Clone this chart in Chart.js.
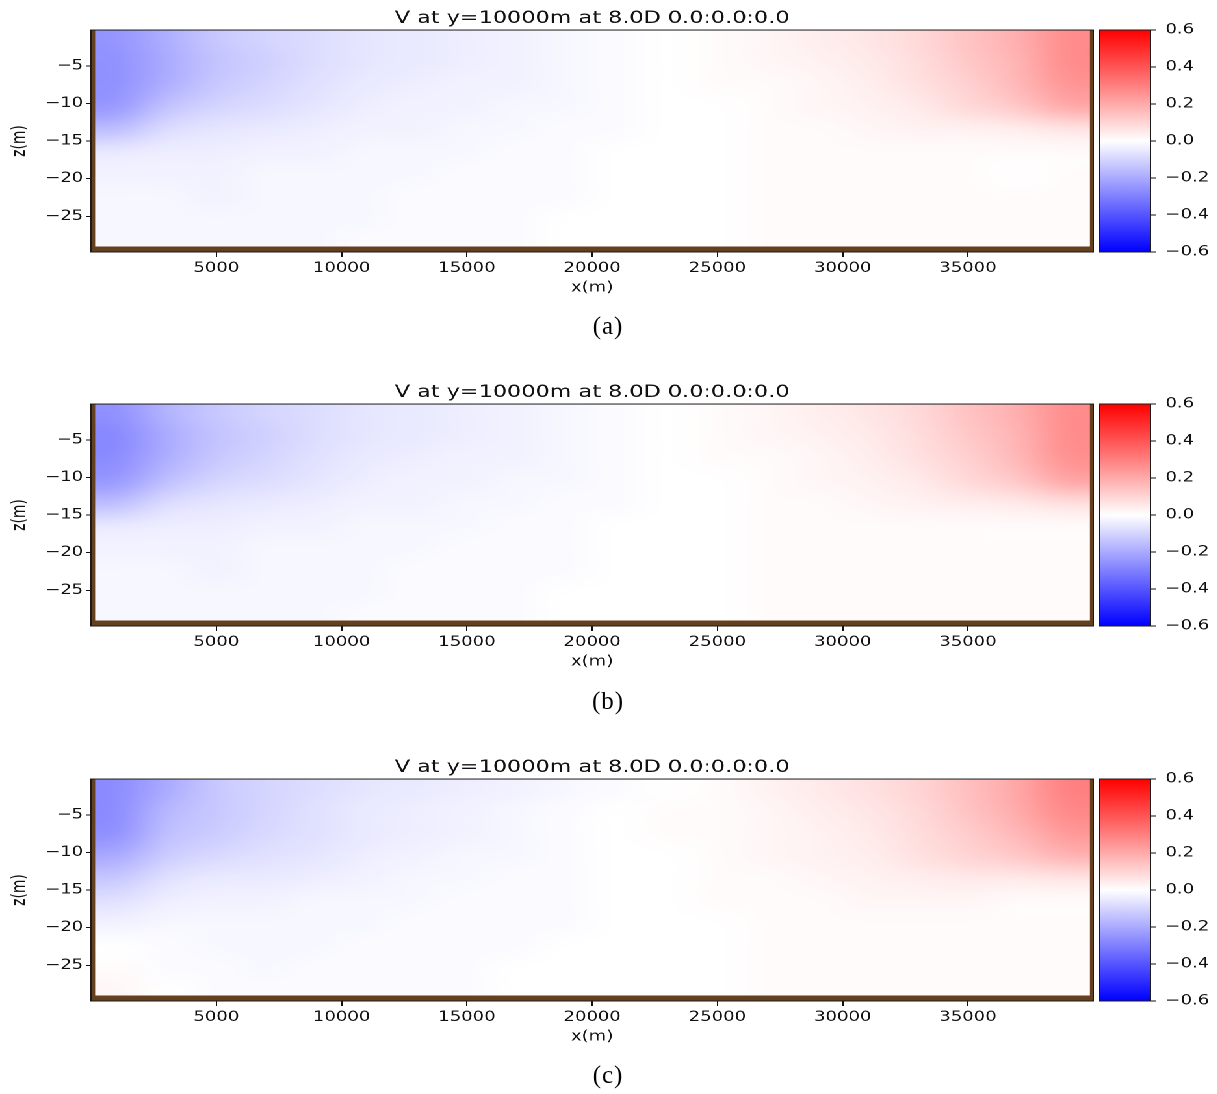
<!DOCTYPE html>
<html>
<head>
<meta charset="utf-8">
<script src="https://cdn.jsdelivr.net/npm/chart.js@4.4.1/dist/chart.umd.min.js"></script>
<style>
  html, body { margin: 0; padding: 0; background: #fff; }
  body { width: 1217px; height: 1094px; position: relative; overflow: hidden; }
  /* the source figure is stretched sideways, so draw narrow and stretch */
  #stage { position: absolute; left: 0; top: 0; width: 936px; height: 1094px; transform: scaleX(1.3); transform-origin: 0 0; }
  .panel { position: absolute; left: 0; width: 936px; height: 302px; }
  .panel canvas { position: absolute; top: 0; }
  .caption { position: absolute; left: 558px; width: 100px; text-align: center; font-family: "Liberation Serif", serif; font-size: 25px; line-height: 25px; color: #000; letter-spacing: 1px; }
</style>
</head>
<body>
<div id="stage">
  <div class="panel" style="top:0px"><canvas id="mapA" width="845" height="302" style="left:0"></canvas><canvas id="barA" width="91" height="302" style="left:845px"></canvas></div>
  <div class="panel" style="top:374px"><canvas id="mapB" width="845" height="302" style="left:0"></canvas><canvas id="barB" width="91" height="302" style="left:845px"></canvas></div>
  <div class="panel" style="top:749px"><canvas id="mapC" width="845" height="302" style="left:0"></canvas><canvas id="barC" width="91" height="302" style="left:845px"></canvas></div>
</div>
<div class="caption" style="top:313px">(a)</div>
<div class="caption" style="top:688px">(b)</div>
<div class="caption" style="top:1062px">(c)</div>

<script>
const titleText = "V at y=10000m at 8.0D 0.0:0.0:0.0";

// cell centres (m)
const xCenters = [1000, 3000, 5000, 7000, 9000, 11000, 13000, 15000, 17000, 19000,
                  21000, 23000, 25000, 27000, 29000, 31000, 33000, 35000, 37000, 39000];
const zCenters = [-1.5, -4.5, -7.5, -10.5, -13.5, -16.5, -19.5, -22.5, -25.5, -28.5];

const xTickValues = [5000, 10000, 15000, 20000, 25000, 30000, 35000];
const zTickValues = [-25, -20, -15, -10, -5];
const cbTickValues = [-0.6, -0.4, -0.2, 0.0, 0.2, 0.4, 0.6];
const vMin = -0.6, vMax = 0.6;

// V values, one row per z (top row first)
const vA = [
  [-0.25,-0.19,-0.13,-0.10,-0.08,-0.06,-0.05,-0.04,-0.03,-0.02,-0.01,0.00,0.01,0.02,0.04,0.06,0.09,0.14,0.19,0.27],
  [-0.26,-0.20,-0.14,-0.11,-0.08,-0.06,-0.05,-0.04,-0.03,-0.02,-0.01,0.00,0.01,0.02,0.03,0.05,0.08,0.13,0.18,0.27],
  [-0.26,-0.19,-0.13,-0.10,-0.07,-0.05,-0.04,-0.03,-0.03,-0.02,-0.01,0.00,0.01,0.01,0.02,0.04,0.07,0.11,0.17,0.25],
  [-0.24,-0.14,-0.10,-0.08,-0.06,-0.04,-0.03,-0.03,-0.02,-0.02,-0.01,0.00,0.00,0.01,0.02,0.03,0.05,0.09,0.13,0.20],
  [-0.15,-0.08,-0.06,-0.05,-0.04,-0.03,-0.03,-0.02,-0.02,-0.01,-0.01,0.00,0.00,0.01,0.01,0.02,0.03,0.03,0.04,0.06],
  [-0.05,-0.04,-0.04,-0.03,-0.03,-0.02,-0.02,-0.02,-0.01,-0.01,0.00,0.00,0.00,0.01,0.01,0.01,0.01,0.01,0.01,0.01],
  [-0.03,-0.03,-0.03,-0.02,-0.02,-0.02,-0.02,-0.01,-0.01,-0.01,0.00,0.00,0.00,0.01,0.01,0.01,0.01,0.01,0.00,0.01],
  [-0.02,-0.02,-0.03,-0.02,-0.02,-0.02,-0.01,-0.01,-0.01,-0.01,0.00,0.00,0.00,0.01,0.01,0.01,0.01,0.01,0.01,0.01],
  [-0.02,-0.02,-0.02,-0.02,-0.02,-0.02,-0.01,-0.01,-0.01,0.00,0.00,0.00,0.00,0.01,0.01,0.01,0.01,0.01,0.01,0.01],
  [-0.02,-0.02,-0.02,-0.02,-0.02,-0.01,-0.01,-0.01,-0.01,0.00,0.00,0.00,0.00,0.01,0.01,0.01,0.01,0.01,0.01,0.01]
];
const vB = [
  [-0.26,-0.18,-0.13,-0.10,-0.08,-0.06,-0.05,-0.04,-0.03,-0.02,-0.01,0.00,0.01,0.02,0.04,0.06,0.09,0.14,0.19,0.27],
  [-0.28,-0.20,-0.14,-0.11,-0.08,-0.06,-0.05,-0.04,-0.03,-0.02,-0.01,0.00,0.01,0.02,0.03,0.05,0.08,0.13,0.18,0.27],
  [-0.27,-0.19,-0.13,-0.10,-0.07,-0.05,-0.04,-0.03,-0.03,-0.02,-0.01,0.00,0.01,0.01,0.02,0.04,0.07,0.11,0.17,0.26],
  [-0.24,-0.15,-0.10,-0.08,-0.06,-0.04,-0.03,-0.03,-0.02,-0.02,-0.01,0.00,0.00,0.01,0.02,0.03,0.05,0.09,0.13,0.21],
  [-0.15,-0.08,-0.06,-0.05,-0.04,-0.03,-0.03,-0.02,-0.02,-0.01,-0.01,0.00,0.00,0.01,0.01,0.02,0.03,0.04,0.05,0.07],
  [-0.05,-0.04,-0.04,-0.03,-0.03,-0.02,-0.02,-0.02,-0.01,-0.01,0.00,0.00,0.00,0.01,0.01,0.01,0.01,0.01,0.01,0.01],
  [-0.03,-0.03,-0.03,-0.02,-0.02,-0.02,-0.02,-0.01,-0.01,-0.01,0.00,0.00,0.00,0.01,0.01,0.01,0.01,0.01,0.01,0.01],
  [-0.02,-0.02,-0.03,-0.02,-0.02,-0.02,-0.01,-0.01,-0.01,-0.01,0.00,0.00,0.00,0.01,0.01,0.01,0.01,0.01,0.01,0.01],
  [-0.02,-0.02,-0.02,-0.02,-0.02,-0.02,-0.01,-0.01,-0.01,0.00,0.00,0.00,0.00,0.01,0.01,0.01,0.01,0.01,0.01,0.01],
  [-0.02,-0.02,-0.02,-0.02,-0.02,-0.01,-0.01,-0.01,-0.01,0.00,0.00,0.00,0.00,0.01,0.01,0.01,0.01,0.01,0.01,0.01]
];
const vC = [
  [-0.27,-0.20,-0.13,-0.10,-0.08,-0.06,-0.05,-0.04,-0.03,-0.02,-0.01,0.00,0.01,0.03,0.05,0.07,0.10,0.15,0.21,0.30],
  [-0.27,-0.17,-0.13,-0.10,-0.07,-0.05,-0.04,-0.03,-0.02,-0.01,0.00,0.01,0.01,0.02,0.04,0.06,0.09,0.14,0.20,0.28],
  [-0.26,-0.15,-0.12,-0.09,-0.07,-0.05,-0.04,-0.03,-0.02,-0.01,0.00,0.01,0.01,0.02,0.03,0.05,0.08,0.12,0.17,0.24],
  [-0.20,-0.12,-0.09,-0.07,-0.06,-0.04,-0.03,-0.02,-0.02,-0.01,0.00,0.00,0.01,0.02,0.03,0.04,0.07,0.10,0.13,0.18],
  [-0.13,-0.07,-0.05,-0.05,-0.04,-0.03,-0.02,-0.02,-0.01,-0.01,0.00,0.00,0.01,0.01,0.02,0.03,0.04,0.05,0.05,0.06],
  [-0.07,-0.04,-0.03,-0.03,-0.02,-0.02,-0.02,-0.01,-0.01,-0.01,0.00,0.00,0.01,0.01,0.01,0.02,0.02,0.02,0.01,0.01],
  [-0.03,-0.02,-0.02,-0.02,-0.02,-0.02,-0.01,-0.01,-0.01,-0.01,0.00,0.00,0.00,0.01,0.01,0.01,0.01,0.01,0.01,0.01],
  [0.00,-0.01,-0.02,-0.02,-0.02,-0.01,-0.01,-0.01,-0.01,0.00,0.00,0.00,0.00,0.01,0.01,0.01,0.01,0.01,0.01,0.01],
  [0.01,-0.01,-0.01,-0.02,-0.01,-0.01,-0.01,-0.01,0.00,0.00,0.00,0.00,0.00,0.01,0.01,0.01,0.01,0.01,0.01,0.01],
  [0.02,0.00,-0.01,-0.01,-0.01,-0.01,-0.01,-0.01,0.00,0.00,0.00,0.00,0.00,0.01,0.01,0.01,0.01,0.01,0.01,0.01]
];

const fontFamily = "'DejaVu Sans', sans-serif";
const textColor = "#111";
const terrainColor = "#65401f";

// matplotlib "bwr": blue -> white -> red
function bwr(v) {
  const t = Math.max(0, Math.min(1, (v - vMin) / (vMax - vMin)));
  let r, g, b;
  if (t < 0.5) { r = g = 2 * t; b = 1; }
  else { r = 1; g = b = 2 * (1 - t); }
  return [Math.round(r * 255), Math.round(g * 255), Math.round(b * 255)];
}

function minusFmt(v, digits) {
  const s = Math.abs(v).toFixed(digits);
  return (v < 0 ? "\u2212" : "") + s;
}

// paints the cells into a tiny image and stretches it over the scales (smooth shading)
const heatmapPlugin = {
  id: "heatmap",
  beforeDatasetsDraw(chart) {
    const { ctx, chartArea: a, scales: { x, y } } = chart;
    const cells = chart.data.datasets[0].data;
    const nx = xCenters.length, nz = zCenters.length;
    const off = document.createElement("canvas");
    off.width = nx + 2;
    off.height = nz + 2;
    const octx = off.getContext("2d");
    const img = octx.createImageData(nx + 2, nz + 2);
    for (let j = 0; j < nz + 2; j++) {
      for (let i = 0; i < nx + 2; i++) {
        const ci = Math.min(nx - 1, Math.max(0, i - 1));
        const cj = Math.min(nz - 1, Math.max(0, j - 1));
        const c = bwr(cells[cj * nx + ci].v);
        const k = (j * (nx + 2) + i) * 4;
        img.data[k] = c[0];
        img.data[k + 1] = c[1];
        img.data[k + 2] = c[2];
        img.data[k + 3] = 255;
      }
    }
    octx.putImageData(img, 0, 0);

    const dx = xCenters[1] - xCenters[0];
    const dz = zCenters[0] - zCenters[1];
    const x0 = x.getPixelForValue(xCenters[0] - dx * 1.5);
    const x1 = x.getPixelForValue(xCenters[nx - 1] + dx * 1.5);
    const y0 = y.getPixelForValue(zCenters[0] + dz * 1.5);
    const y1 = y.getPixelForValue(zCenters[nz - 1] - dz * 1.5);

    ctx.save();
    ctx.beginPath();
    ctx.rect(a.left, a.top, a.right - a.left, a.bottom - a.top);
    ctx.clip();
    ctx.imageSmoothingEnabled = true;
    ctx.imageSmoothingQuality = "high";
    ctx.drawImage(off, x0, y0, x1 - x0, y1 - y0);
    ctx.restore();
  },
  afterDatasetsDraw(chart) {
    // terrain strip on left / bottom / right, then the axes frame
    const { ctx, chartArea: a } = chart;
    ctx.save();
    ctx.fillStyle = terrainColor;
    ctx.fillRect(a.left, a.top, 3.2, a.bottom - a.top);
    ctx.fillRect(a.left, a.bottom - 5.5, a.right - a.left, 5.5);
    ctx.fillRect(a.right - 2.6, a.top, 2.6, a.bottom - a.top);
    ctx.strokeStyle = "#1a1a1a";
    ctx.lineWidth = 1;
    ctx.strokeRect(a.left, a.top, a.right - a.left, a.bottom - a.top);
    ctx.restore();
  }
};

const colorbarPlugin = {
  id: "colorbar",
  beforeDatasetsDraw(chart) {
    const { ctx, chartArea: a, scales: { y } } = chart;
    const g = ctx.createLinearGradient(0, y.getPixelForValue(vMin), 0, y.getPixelForValue(vMax));
    g.addColorStop(0, "rgb(0,0,255)");
    g.addColorStop(0.5, "rgb(255,255,255)");
    g.addColorStop(1, "rgb(255,0,0)");
    ctx.save();
    ctx.fillStyle = g;
    ctx.fillRect(a.left, a.top, a.right - a.left, a.bottom - a.top);
    ctx.strokeStyle = "#1a1a1a";
    ctx.lineWidth = 1;
    ctx.strokeRect(a.left, a.top, a.right - a.left, a.bottom - a.top);
    ctx.restore();
  }
};

function makeMap(id, grid) {
  const cells = zCenters.flatMap((z, j) => xCenters.map((xv, i) => ({ x: xv, y: z, v: grid[j][i] })));
  new Chart(document.getElementById(id), {
    type: "scatter",
    data: { datasets: [{ data: cells, pointRadius: 0, pointHoverRadius: 0 }] },
    options: {
      responsive: false,
      devicePixelRatio: 2,
      animation: false,
      events: [],
      layout: { padding: { left: 0, right: 4, top: 0, bottom: 0 } },
      plugins: {
        legend: { display: false },
        tooltip: { enabled: false },
        title: {
          display: true,
          fullSize: false,
          text: titleText,
          color: textColor,
          font: { family: fontFamily, size: 17.2, weight: "normal" },
          padding: { top: 8, bottom: 1.4 }
        }
      },
      scales: {
        x: {
          type: "linear",
          min: 0,
          max: 40000,
          afterBuildTicks: s => { s.ticks = xTickValues.map(v => ({ value: v })); },
          afterFit: s => { s.height = 50; },
          border: { display: false },
          grid: { drawOnChartArea: false, tickLength: 5, color: "#111" },
          ticks: {
            autoSkip: false, maxRotation: 0, padding: 3, color: textColor,
            font: { family: fontFamily, size: 13.9 },
            callback: v => String(v)
          },
          title: {
            display: true, text: "x(m)", color: textColor,
            font: { family: fontFamily, size: 13.9 },
            padding: { top: 2, bottom: 6 }
          }
        },
        y: {
          type: "linear",
          min: -29.75,
          max: -0.25,
          afterBuildTicks: s => { s.ticks = zTickValues.map(v => ({ value: v })); },
          afterFit: s => { s.width = 70; },
          border: { display: false },
          grid: { drawOnChartArea: false, tickLength: 4, color: "#111" },
          ticks: {
            autoSkip: false, padding: 2, color: textColor,
            font: { family: fontFamily, size: 13.9 },
            callback: v => minusFmt(v, 0)
          },
          title: {
            display: true, text: "z(m)", color: textColor,
            font: { family: fontFamily, size: 13.9 },
            padding: { top: 7, bottom: 0 }
          }
        }
      }
    },
    plugins: [heatmapPlugin]
  });
}

function makeColorbar(id) {
  new Chart(document.getElementById(id), {
    type: "scatter",
    data: { datasets: [{ data: [], pointRadius: 0 }] },
    options: {
      responsive: false,
      devicePixelRatio: 2,
      animation: false,
      events: [],
      layout: { padding: { left: 1, right: 0, top: 30, bottom: 50 } },
      plugins: { legend: { display: false }, tooltip: { enabled: false } },
      scales: {
        x: { display: false, min: 0, max: 1 },
        y: {
          position: "right",
          min: vMin,
          max: vMax,
          afterBuildTicks: s => { s.ticks = cbTickValues.map(v => ({ value: v })); },
          afterFit: s => { s.width = 51; },
          border: { display: false },
          grid: { drawOnChartArea: false, tickLength: 4.5, color: "#111" },
          ticks: {
            autoSkip: false, padding: 7, color: textColor,
            font: { family: fontFamily, size: 13.9 },
            callback: v => minusFmt(v, 1)
          }
        }
      }
    },
    plugins: [colorbarPlugin]
  });
}

makeMap("mapA", vA);
makeMap("mapB", vB);
makeMap("mapC", vC);
makeColorbar("barA");
makeColorbar("barB");
makeColorbar("barC");
</script>
</body>
</html>
